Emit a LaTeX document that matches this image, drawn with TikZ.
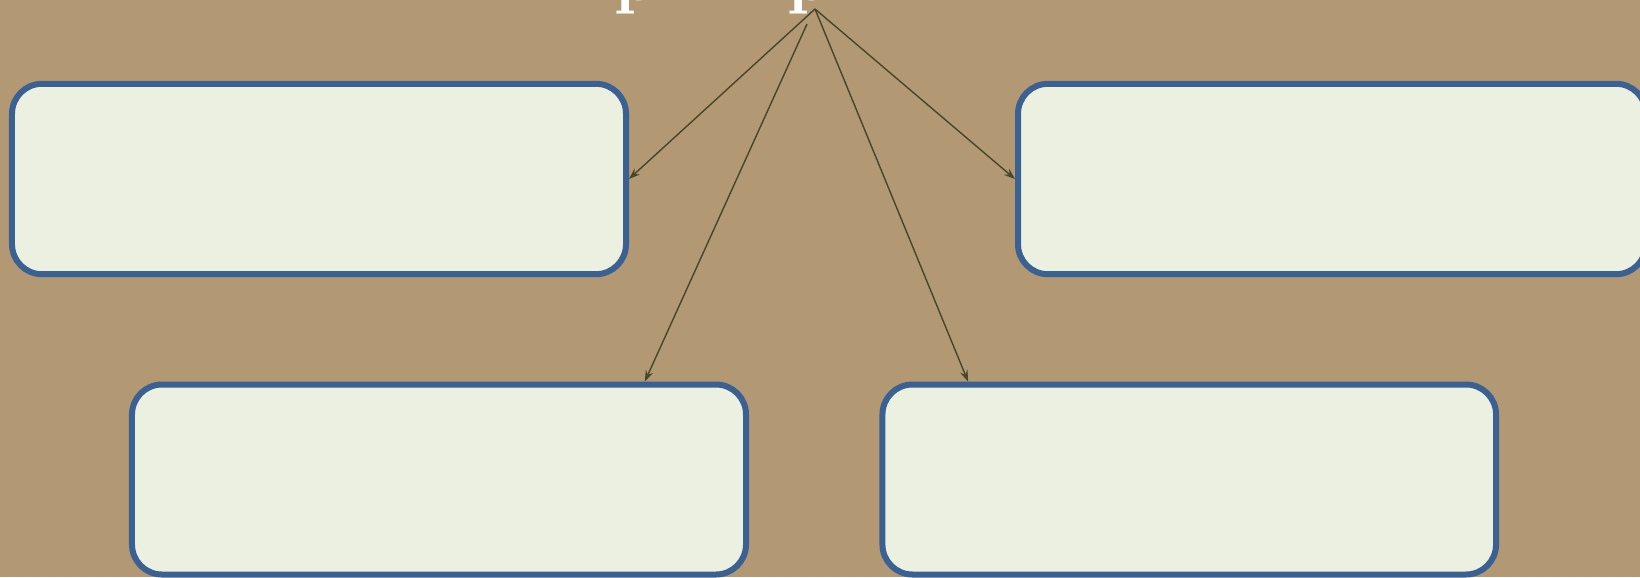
\documentclass[tikz,border=0pt]{standalone}
\usetikzlibrary{arrows.meta,calc}
\definecolor{sand}{RGB}{178,152,115}
\definecolor{boxfill}{RGB}{235,240,224}
\definecolor{boxline}{RGB}{58,97,146}
\definecolor{arrowcol}{RGB}{72,70,40}
\tikzset{
  box/.style={draw=boxline, fill=boxfill, line width=1.5mm, rounded corners=7.5mm,
    minimum height=47.6mm, inner sep=0pt},
  link/.style={draw=arrowcol, line width=0.35mm, -{Stealth[length=2.8mm,width=2mm,inset=1mm]}},
  titlebit/.style={text=white, font=\fontsize{50}{54}\selectfont\bfseries, inner sep=0pt, anchor=base west}
}
\begin{document}
\begin{tikzpicture}[x=0.25mm,y=-0.25mm]
\useasboundingbox (0,0) rectangle (1640,577);
\fill[sand] (0,0) rectangle (1640,577);
\node[titlebit] (t1) at (614,0) {p};
\node[titlebit] (t2) at (787,0) {p};
\node[box, minimum width=153.5mm] (b1) at (319,179) {};
\node[box, minimum width=157mm] (b2) at (1332,179) {};
\node[box, minimum width=153.5mm, minimum height=47.5mm] (b3) at (439,479.5) {};
\node[box, minimum width=153.4mm, minimum height=47.5mm] (b4) at (1189.25,479.5) {};
\coordinate (apex) at (815,9);
\coordinate (apex2) at (807,24);
\draw[link] (apex) -- (b1.east);
\draw[link] (apex) -- (b2.west);
\draw[link] (apex2) -- ($(b3.north west)!0.832!(b3.north east)$);
\draw[link] (apex) -- ($(b4.north west)!0.143!(b4.north east)$);
\end{tikzpicture}
\end{document}
